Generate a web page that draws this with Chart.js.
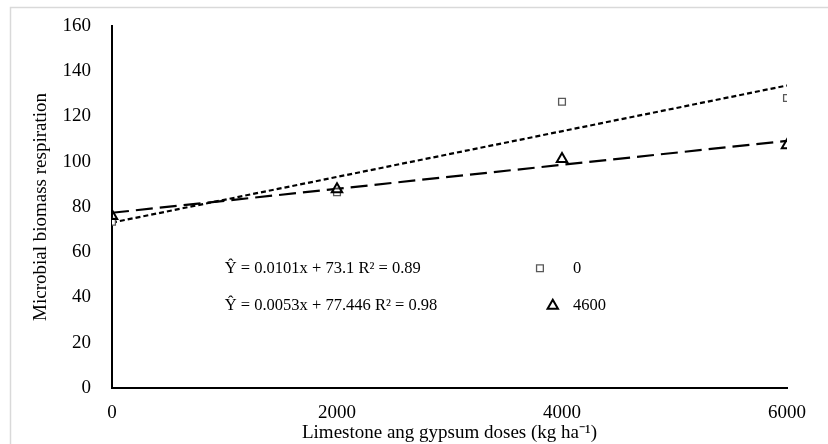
<!DOCTYPE html>
<html>
<head>
<meta charset="utf-8">
<script src="https://cdn.jsdelivr.net/npm/chart.js@4"></script>
<style>
  html, body { margin:0; padding:0; background:#fff; }
  #wrap { width:828px; height:444px; position:relative; }
</style>
</head>
<body>
<div id="wrap"><canvas id="c" width="828" height="444"></canvas></div>
<script>
// ---- data ----
const doses = [0, 2000, 4000, 6000];
const seriesNames = ['0', '4600'];
const resp0 = [73.5, 86.5, 126.5, 128.2];
const resp4600 = [76, 87.8, 101.2, 107.3];
const slopes = [0.0101, 0.0053];
const intercepts = [73.1, 77.446];
const equations = ['\u0176 = 0.0101x + 73.1 R\u00B2 = 0.89', '\u0176 = 0.0053x + 77.446 R\u00B2 = 0.98'];
const yTicks = [0, 20, 40, 60, 80, 100, 120, 140, 160];
const xTicks = [0, 2000, 4000, 6000];

const FONT = "'Liberation Serif', 'Times New Roman', serif";

function pts(xs, ys) { return xs.map((x, i) => ({x: x, y: ys[i]})); }
const xMin = doses[0], xMax = doses[doses.length - 1];
function trend(k) { return [{x: xMin, y: intercepts[k] + slopes[k] * xMin}, {x: xMax, y: intercepts[k] + slopes[k] * xMax}]; }

const markerStyles = [
  {pointStyle: 'rect', radius: 4.8, color: '#595959', width: 1.3},
  {pointStyle: 'triangle', radius: 6, color: '#000000', width: 2}
];
const trendDash = [[5, 3], [17, 7]];

const borderPlugin = {
  id: 'outerBorder',
  beforeDraw(chart) {
    const ctx = chart.ctx;
    ctx.save();
    ctx.fillStyle = '#fff';
    ctx.fillRect(0, 0, chart.width, chart.height);
    ctx.strokeStyle = '#d9d9d9';
    ctx.lineWidth = 1.5;
    ctx.strokeRect(10.5, 7.5, chart.width + 20, chart.height + 20);
    ctx.restore();
  }
};

const legendPlugin = {
  id: 'eqLegend',
  afterDraw(chart) {
    const ctx = chart.ctx;
    const a = chart.chartArea;
    const W = a.right - a.left, H = a.bottom - a.top;
    const rowsY = [0.669, 0.773];
    const markerX = [0.634, 0.653];
    ctx.save();
    ctx.font = "16.5px " + FONT;
    ctx.textBaseline = 'middle';
    for (let k = 0; k < equations.length; k++) {
      const y = a.top + rowsY[k] * H;
      ctx.textAlign = 'left';
      ctx.fillStyle = '#000';
      ctx.fillText(equations[k], a.left + 0.167 * W, y);
      const m = markerStyles[k];
      ctx.fillStyle = '#fff';
      ctx.strokeStyle = m.color;
      ctx.lineWidth = m.width;
      Chart.helpers.drawPoint(ctx, {pointStyle: m.pointStyle, radius: m.radius, borderWidth: m.width, rotation: 0},
        a.left + markerX[k] * W, y);
      ctx.fillStyle = '#000';
      ctx.fillText(seriesNames[k], a.left + 0.683 * W, y);
    }
    ctx.restore();
  }
};

const datasets = [
  {
    type: 'scatter', label: seriesNames[0], data: pts(doses, resp0),
    pointStyle: markerStyles[0].pointStyle, pointRadius: markerStyles[0].radius,
    borderColor: markerStyles[0].color, backgroundColor: 'rgba(255,255,255,1)', pointBorderWidth: markerStyles[0].width, order: 1
  },
  {
    type: 'scatter', label: seriesNames[1], data: pts(doses, resp4600),
    pointStyle: markerStyles[1].pointStyle, pointRadius: markerStyles[1].radius,
    borderColor: markerStyles[1].color, backgroundColor: 'rgba(255,255,255,0)', pointBorderWidth: markerStyles[1].width, order: 0
  },
  {
    type: 'line', label: 'trend0', data: trend(0), borderColor: '#000', borderWidth: 2.2,
    borderDash: trendDash[0], pointRadius: 0, fill: false, order: 2
  },
  {
    type: 'line', label: 'trend4600', data: trend(1), borderColor: '#000', borderWidth: 2.2,
    borderDash: trendDash[1], pointRadius: 0, fill: false, order: 2
  }
];

new Chart(document.getElementById('c'), {
  data: { datasets: datasets },
  plugins: [borderPlugin, legendPlugin],
  options: {
    responsive: false,
    animation: false,
    devicePixelRatio: 1,
    layout: { padding: { left: 30, right: 41, top: 26, bottom: 0 } },
    plugins: { legend: { display: false }, tooltip: { enabled: false } },
    scales: {
      x: {
        type: 'linear', min: xMin, max: xMax,
        afterBuildTicks(s) { s.ticks = xTicks.map(v => ({value: v})); },
        afterFit(s) { s.height = 56; },
        grid: { display: false },
        border: { display: true, color: '#000', width: 2 },
        ticks: { color: '#000', font: { family: FONT, size: 19 }, padding: 6, maxRotation: 0,
                 callback: v => String(v) },
        title: { display: true, text: 'Limestone ang gypsum doses (kg ha\u207B\u00B9)', color: '#000',
                 font: { family: FONT, size: 19 }, padding: { top: -4, bottom: 0 } }
      },
      y: {
        type: 'linear', min: 0, max: 160,
        afterBuildTicks(s) { s.ticks = yTicks.map(v => ({value: v})); },
        afterFit(s) { s.width = 112 - 30; },
        grid: { display: false },
        border: { display: true, color: '#000', width: 2 },
        ticks: { color: '#000', font: { family: FONT, size: 19 }, padding: 13, callback: v => String(v) },
        title: { display: true, text: 'Microbial biomass respiration', color: '#000',
                 font: { family: FONT, size: 19 }, padding: { top: 0, bottom: 0 } }
      }
    }
  }
});
</script>
</body>
</html>
